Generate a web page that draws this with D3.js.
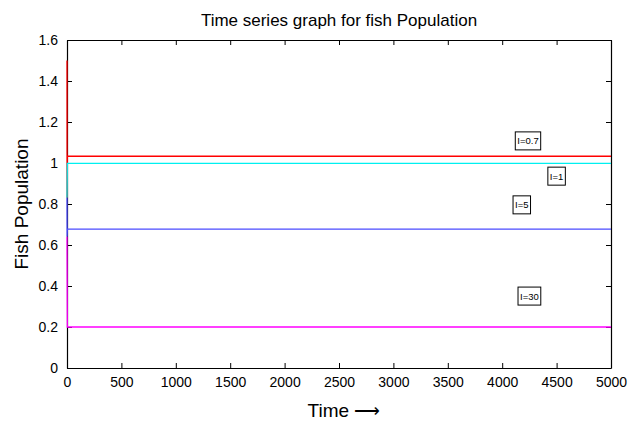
<!DOCTYPE html>
<html lang="en">
<head>
<meta charset="utf-8">
<title>Fish population</title>
<script src="https://cdn.jsdelivr.net/npm/d3@7"></script>
<style>
  body { margin: 0; background: #fff; }
  text { font-family: "Liberation Sans", Arial, sans-serif; }
</style>
</head>
<body>
<script>
// data: [time, population]
var redSeries = [[0, 1.5], [1, 0.83], [3, 1.033], [5000, 1.033]];
var cyanSeries = [[0, 0.83], [3, 0.998], [5000, 0.998]];
var blueSeries = [[0, 0.83], [1, 0.64], [3, 0.677], [5000, 0.677]];
var magentaSeries = [[0, 0.64], [3, 0.2], [5000, 0.2]];
var seriesColors = ["#ff0000", "#00f0f0", "#4b4bff", "#ff00ff"];

var labelText = ["I=0.7", "I=1", "I=5", "I=30"];
var labelPos = [[4237, 1.107], [4500, 0.935], [4180, 0.795], [4250, 0.35]];

var xTicks = [0, 500, 1000, 1500, 2000, 2500, 3000, 3500, 4000, 4500, 5000];
var yTicks = [0, 0.2, 0.4, 0.6, 0.8, 1, 1.2, 1.4, 1.6];

var w = 631, h = 421;
var margin = {top: 40, right: 20, bottom: 53, left: 67};

var svg = d3.select("body").append("svg")
  .attr("width", w)
  .attr("height", h);

var xScale = d3.scaleLinear().domain([0, 5000]).range([margin.left, w - margin.right]);
var yScale = d3.scaleLinear().domain([0, 1.6]).range([h - margin.bottom, margin.top]);

var fmtY = function(d) { return d === 0 || d === 1 ? String(d) : d3.format(".1f")(d); };

// axes, MATLAB-like inward ticks on all four sides
svg.append("g")
  .attr("transform", "translate(0," + (h - margin.bottom) + ")")
  .call(d3.axisBottom(xScale).tickValues(xTicks).tickSizeInner(-5).tickSizeOuter(0).tickPadding(9).tickFormat(d3.format("d")));
svg.append("g")
  .attr("transform", "translate(0," + margin.top + ")")
  .call(d3.axisTop(xScale).tickValues(xTicks).tickSizeInner(-5).tickSizeOuter(0).tickFormat(""));
svg.append("g")
  .attr("transform", "translate(" + margin.left + ",0)")
  .call(d3.axisLeft(yScale).tickValues(yTicks).tickSizeInner(-5).tickSizeOuter(0).tickPadding(9).tickFormat(fmtY));
svg.append("g")
  .attr("transform", "translate(" + (w - margin.right) + ",0)")
  .call(d3.axisRight(yScale).tickValues(yTicks).tickSizeInner(-5).tickSizeOuter(0).tickFormat(""));

svg.selectAll(".domain").attr("stroke", "#000").attr("stroke-width", 1.2);
svg.selectAll(".tick line").attr("stroke", "#000");
svg.selectAll(".tick text")
  .attr("font-size", "14px")
  .attr("fill", "#000")
  .style("font-family", "'Liberation Sans', Arial, sans-serif");

// series lines
var line = d3.line()
  .x(function(d) { return xScale(d[0]); })
  .y(function(d) { return yScale(d[1]); });

var allSeries = [redSeries, cyanSeries, blueSeries, magentaSeries];
svg.selectAll(".series")
  .data(allSeries)
  .enter()
  .append("path")
  .attr("class", "series")
  .attr("d", line)
  .attr("fill", "none")
  .attr("stroke", function(d, i) { return seriesColors[i]; })
  .attr("stroke-width", 1.3);

// boxed labels
var lab = svg.selectAll(".lab")
  .data(labelText)
  .enter()
  .append("g")
  .attr("class", "lab")
  .attr("transform", function(d, i) {
    return "translate(" + xScale(labelPos[i][0]) + "," + yScale(labelPos[i][1]) + ")";
  });
lab.append("text")
  .text(function(d) { return d; })
  .attr("text-anchor", "middle")
  .attr("dy", "0.35em")
  .attr("font-size", "9.5px")
  .attr("fill", "#000");
lab.each(function() {
  var g = d3.select(this);
  var bb = g.select("text").node().getBBox();
  g.insert("rect", "text")
    .attr("x", bb.x - 2)
    .attr("y", bb.y - 3.5)
    .attr("width", bb.width + 4)
    .attr("height", bb.height + 7)
    .attr("fill", "#fff")
    .attr("stroke", "#000")
    .attr("stroke-width", 1);
});

// title and axis labels
svg.append("text")
  .attr("x", (margin.left + w - margin.right) / 2)
  .attr("y", 26)
  .attr("text-anchor", "middle")
  .attr("font-size", "17px")
  .text("Time series graph for fish Population");

svg.append("text")
  .attr("transform", "translate(28," + ((margin.top + h - margin.bottom) / 2) + ") rotate(-90)")
  .attr("text-anchor", "middle")
  .attr("font-size", "19px")
  .text("Fish Population");

var xl = svg.append("text")
  .attr("x", 344)
  .attr("y", 417)
  .attr("text-anchor", "middle")
  .attr("font-size", "19px");
xl.append("tspan").text("Time ");
xl.append("tspan").attr("font-size", "18px").text("\u27F6");
</script>
</body>
</html>
